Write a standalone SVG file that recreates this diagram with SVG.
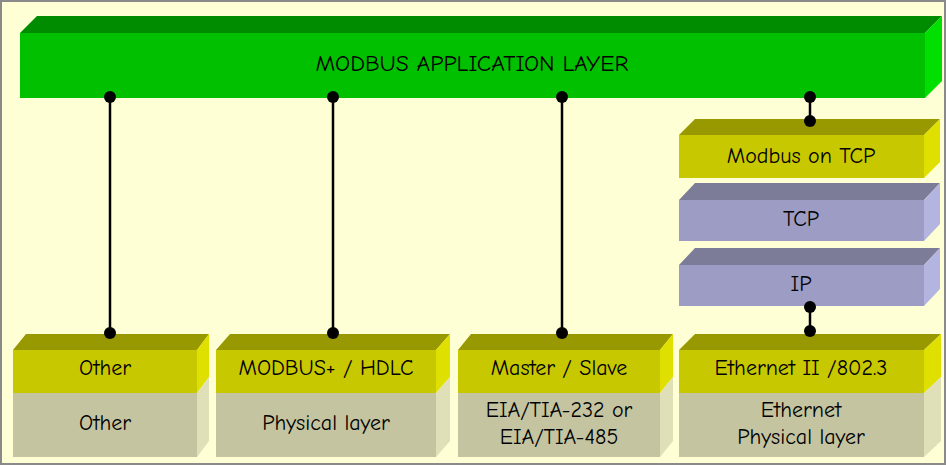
<svg xmlns="http://www.w3.org/2000/svg" width="946" height="465" viewBox="0 0 946 465">
<style>
text{font-family:"Comic Neue","Liberation Sans",Arial,sans-serif;font-size:22px;fill:#000;text-anchor:middle;dominant-baseline:central}
.gf{fill:#00C000}.gt{fill:#008C00}.gs{fill:#00E000}
.yf{fill:#C8C800}.yt{fill:#989800}.ys{fill:#E0E000}
.lf{fill:#C4C4A0}.ls{fill:#E0E0B8}
.bf{fill:#9C9CC4}.bt{fill:#7C7C98}.bs{fill:#B4B4E0}
.ln{stroke:#000;stroke-width:2.5;fill:none}
</style>
<rect x="1" y="1" width="944" height="463" fill="#FFFFD5" stroke="#8A8A8A" stroke-width="2"/>
<g id="app">
<polygon class="gt" points="20,33 37,16 942,16 925,33"/>
<polygon class="gs" points="925,33 942,16 942,81 925,98"/>
<rect class="gf" x="20" y="33" width="905" height="65"/>
<text x="472" y="64" textLength="313" lengthAdjust="spacingAndGlyphs">MODBUS APPLICATION LAYER</text>
</g>
<g id="mtcp">
<polygon class="yt" points="679,135 695,119 940,119 924,135"/>
<polygon class="ys" points="924,135 940,119 940,162 924,178"/>
<rect class="yf" x="679" y="135" width="245" height="43"/>
<text x="801" y="156">Modbus on TCP</text>
</g>
<g id="tcp">
<polygon class="bt" points="679,200 695,183 940,183 924,200"/>
<polygon class="bs" points="924,200 940,183 940,224 924,241"/>
<rect class="bf" x="679" y="200" width="245" height="41"/>
<text x="801" y="219">TCP</text>
</g>
<g id="ip">
<polygon class="bt" points="679,265 695,248 940,248 924,265"/>
<polygon class="bs" points="924,265 940,248 940,289 924,306"/>
<rect class="bf" x="679" y="265" width="245" height="41"/>
<text x="801" y="284">IP</text>
</g>
<g id="other">
<polygon class="yt" points="13,350 26,334 209,334 197,350"/>
<polygon class="ys" points="197,350 209,334 209,377 197,393"/>
<polygon class="ls" points="197,393 209,377 209,441 197,457"/>
<rect class="yf" x="13" y="350" width="184" height="43"/>
<rect class="lf" x="13" y="393" width="184" height="64"/>
<text x="105" y="368">Other</text>
<text x="105" y="423">Other</text>
</g>
<g id="hdlc">
<polygon class="yt" points="216,350 230,334 450,334 436,350"/>
<polygon class="ys" points="436,350 450,334 450,377 436,393"/>
<polygon class="ls" points="436,393 450,377 450,441 436,457"/>
<rect class="yf" x="216" y="350" width="220" height="43"/>
<rect class="lf" x="216" y="393" width="220" height="64"/>
<text x="326" y="368">MODBUS+ / HDLC</text>
<text x="326" y="423">Physical layer</text>
</g>
<g id="ms">
<polygon class="yt" points="458,350 471,334 673,334 660,350"/>
<polygon class="ys" points="660,350 673,334 673,377 660,393"/>
<polygon class="ls" points="660,393 673,377 673,441 660,457"/>
<rect class="yf" x="458" y="350" width="202" height="43"/>
<rect class="lf" x="458" y="393" width="202" height="64"/>
<text x="559" y="368">Master / Slave</text>
<text x="559" y="410">EIA/TIA-232 or</text>
<text x="559" y="437">EIA/TIA-485</text>
</g>
<g id="eth">
<polygon class="yt" points="679,350 695,334 941,334 924,350"/>
<polygon class="ys" points="924,350 941,334 941,377 924,393"/>
<polygon class="ls" points="924,393 941,377 941,441 924,457"/>
<rect class="yf" x="679" y="350" width="245" height="43"/>
<rect class="lf" x="679" y="393" width="245" height="64"/>
<text x="801" y="368">Ethernet II /802.3</text>
<text x="801" y="410">Ethernet</text>
<text x="801" y="437">Physical layer</text>
</g>
<g id="connectors">
<line class="ln" x1="110" y1="97" x2="110" y2="333"/>
<line class="ln" x1="333" y1="97" x2="333" y2="333"/>
<line class="ln" x1="562" y1="97" x2="562" y2="333"/>
<line class="ln" x1="810" y1="97" x2="810" y2="121"/>
<line class="ln" x1="810" y1="307" x2="810" y2="331"/>
<g fill="#000">
<circle cx="110" cy="97" r="6"/><circle cx="110" cy="333" r="6"/>
<circle cx="333" cy="97" r="6"/><circle cx="333" cy="333" r="6"/>
<circle cx="562" cy="97" r="6"/><circle cx="562" cy="333" r="6"/>
<circle cx="810" cy="97" r="6"/><circle cx="810" cy="121" r="6"/>
<circle cx="810" cy="307" r="6"/><circle cx="810" cy="331" r="6"/>
</g>
</g>
</svg>
